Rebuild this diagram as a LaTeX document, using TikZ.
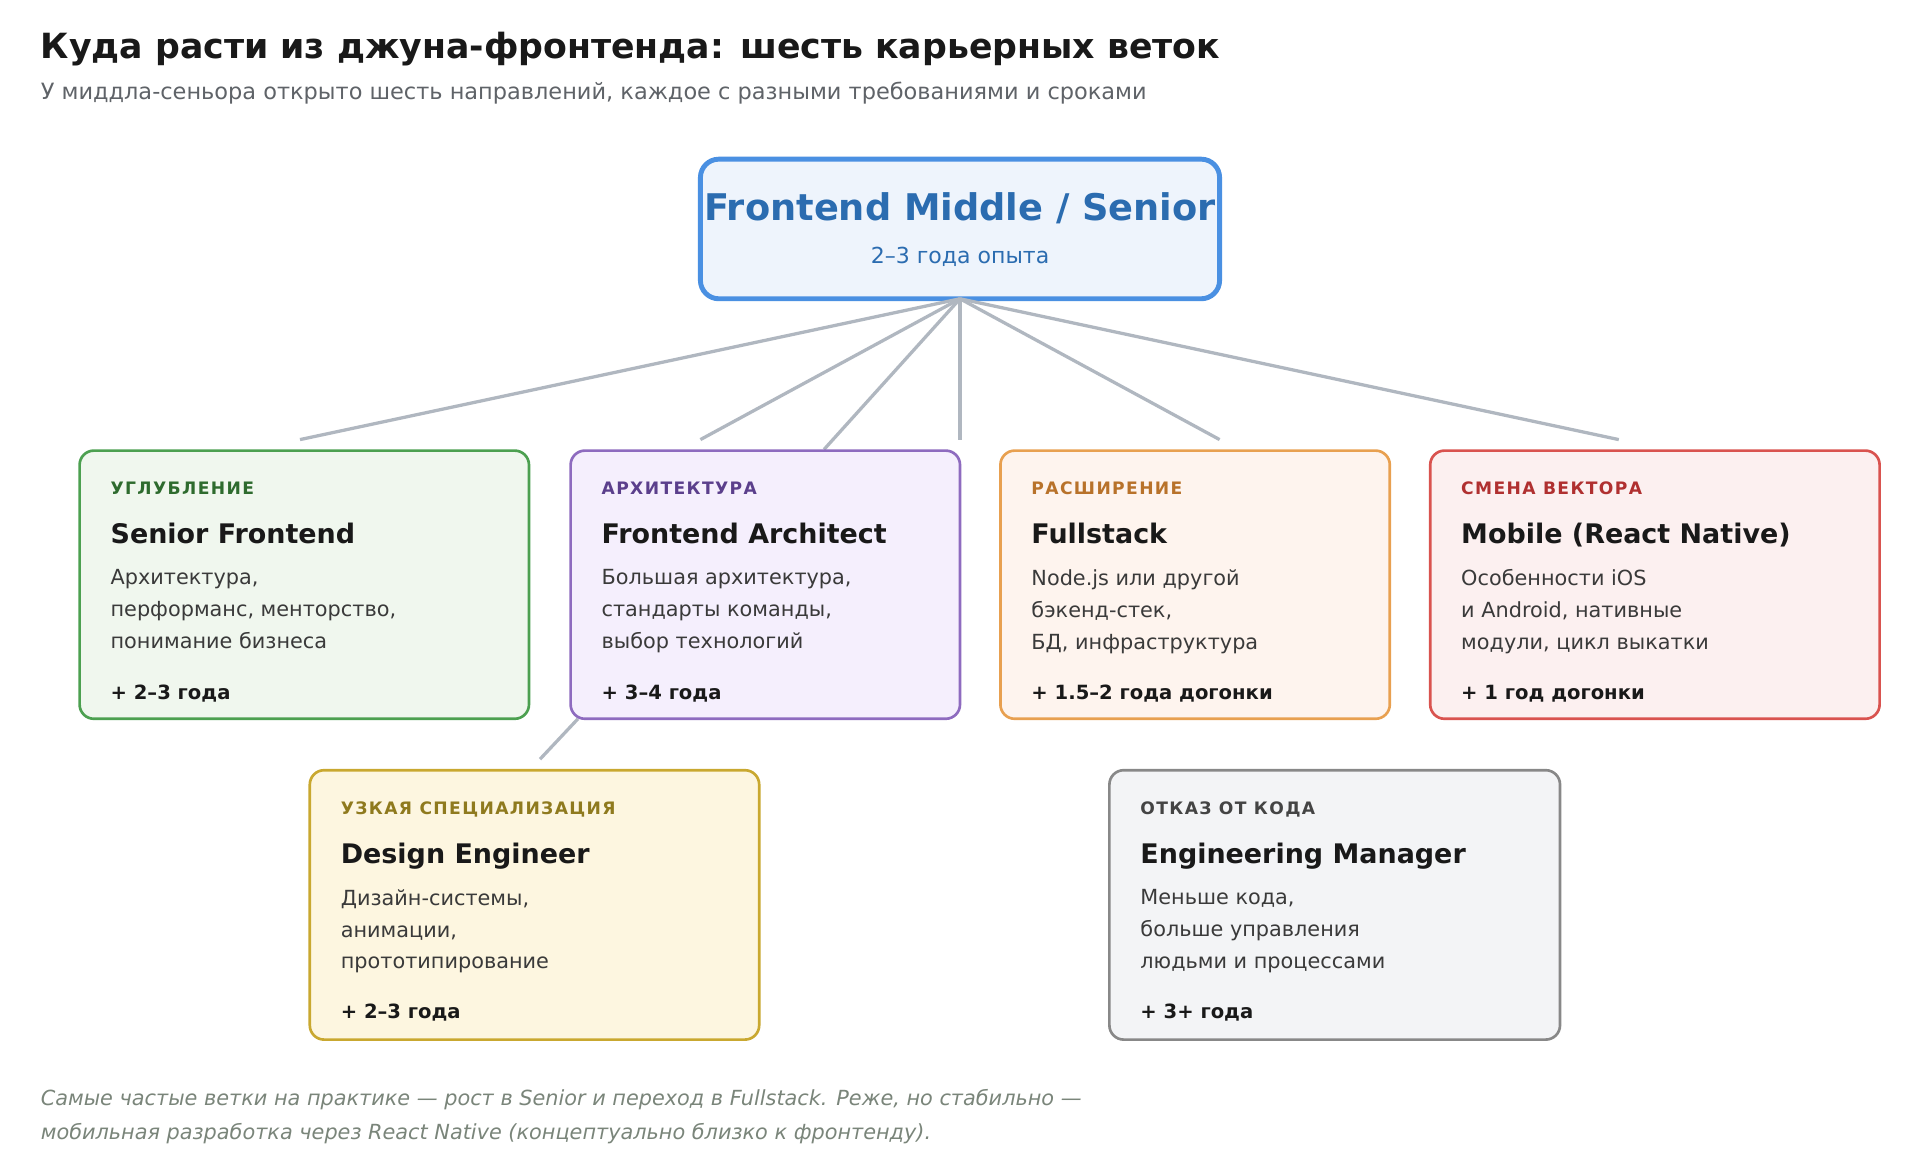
\documentclass[tikz,border=0pt]{standalone}
\usepackage{fontspec}
\setmainfont{DejaVu Sans}
\newfontfamily\spaced[LetterSpace=8]{DejaVu Sans}
\definecolor{gB}{HTML}{4CA050}\definecolor{gF}{HTML}{F0F7EE}\definecolor{gL}{HTML}{2E6B2E}
\definecolor{pB}{HTML}{8E6BBF}\definecolor{pF}{HTML}{F5EFFD}\definecolor{pL}{HTML}{5B3F8C}
\definecolor{oB}{HTML}{E8A050}\definecolor{oF}{HTML}{FEF4EE}\definecolor{oL}{HTML}{B8722A}
\definecolor{rB}{HTML}{D9534F}\definecolor{rF}{HTML}{FCF0F0}\definecolor{rL}{HTML}{B03030}
\definecolor{yB}{HTML}{C9A830}\definecolor{yF}{HTML}{FDF6E0}\definecolor{yL}{HTML}{8F7A1E}
\definecolor{aB}{HTML}{888888}\definecolor{aF}{HTML}{F3F4F6}\definecolor{aL}{HTML}{444444}
\definecolor{rootB}{HTML}{4A90E2}\definecolor{rootF}{HTML}{EEF4FC}\definecolor{rootT}{HTML}{2B6CB0}
\definecolor{edge}{HTML}{B0B7C0}\definecolor{sub}{HTML}{5F6368}\definecolor{desc}{HTML}{3A3A3A}
\definecolor{foot}{HTML}{7A857A}
\tikzset{
 txt/.style={anchor=base west,inner sep=0pt},
 cat/.style={txt,font=\spaced\bfseries\fontsize{8.4}{10}\selectfont},
 ttl/.style={txt,font=\bfseries\fontsize{13.2}{15}\selectfont,text=black!90},
 dsc/.style={txt,font=\fontsize{10.2}{15.6}\selectfont,text=desc,align=left},
 btm/.style={txt,font=\bfseries\fontsize{9.6}{11}\selectfont,text=black!90},
 link/.style={draw=edge,line width=1.6pt}
}
% #1 name, #2 x0, #3 y0, #4 x1, #5 y1, #6 prefix, #7 cat, #8 title, #9 desc
\newcommand\mycard[9]{%
 \draw[draw=#6B,fill=#6F,line width=1.3pt,rounded corners=7] (#2,#3) rectangle (#4,#5);
 \node[cat,text=#6L] (#1c) at (#2+25,#3+36) {#7};
 \node[ttl] (#1t) at (#2+25,#3+76) {#8};
 \node[dsc,anchor=north west] (#1d) at (#2+25,#3+97) {#9};
}
\begin{document}
\begin{tikzpicture}[x=0.6pt,y=-0.6pt]
\useasboundingbox[fill=white] (0,0) rectangle (1568,947);
\node[txt,font=\bfseries\fontsize{17}{20}\selectfont,text=black!90] (title) at (33,48) {Куда расти из джуна-фронтенда: шесть карьерных веток};
\node[txt,font=\fontsize{11}{13}\selectfont,text=sub] (subtitle) at (33,81) {У миддла-сеньора открыто шесть направлений, каждое с разными требованиями и сроками};
% root
\draw[draw=rootB,fill=rootF,line width=2.4pt,rounded corners=9] (572,130) rectangle (996,244);
\node[inner sep=0,anchor=base,font=\bfseries\fontsize{18}{20}\selectfont,text=rootT] (rt) at (784,180) {Frontend Middle / Senior};
\node[inner sep=0,anchor=base,font=\fontsize{10.8}{12}\selectfont,text=rootT] (rs) at (784,215) {2–3 года опыта};
\coordinate (root) at (784,244);
\coordinate (e1) at (245,359);\coordinate (e2) at (572,359);\coordinate (e3) at (673,367);
\coordinate (e4) at (784,359);\coordinate (e5) at (996,359);\coordinate (e6) at (1322,359);
\coordinate (f1) at (472,587);\coordinate (f2) at (441,620);
\foreach \e in {e1,e2,e3,e4,e5,e6} \draw[link] (root) -- (\e);
\draw[link] (f1) -- (f2);
\mycard{a}{65}{368}{432}{587}{g}{УГЛУБЛЕНИЕ}{Senior Frontend}{Архитектура,\\перформанс, менторство,\\понимание бизнеса}
\node[btm] (ab) at (90,571) {+ 2–3 года};
\mycard{b}{466}{368}{784}{587}{p}{АРХИТЕКТУРА}{Frontend Architect}{Большая архитектура,\\стандарты команды,\\выбор технологий}
\node[btm] (bb) at (491,571) {+ 3–4 года};
\mycard{c}{817}{368}{1135}{587}{o}{РАСШИРЕНИЕ}{Fullstack}{Node.js или другой\\бэкенд-стек,\\БД, инфраструктура}
\node[btm] (cb) at (842,571) {+ 1.5–2 года догонки};
\mycard{d}{1168}{368}{1535}{587}{r}{СМЕНА ВЕКТОРА}{Mobile (React Native)}{Особенности iOS\\и Android, нативные\\модули, цикл выкатки}
\node[btm] (db) at (1193,571) {+ 1 год догонки};
\mycard{e}{253}{629}{620}{849}{y}{УЗКАЯ СПЕЦИАЛИЗАЦИЯ}{Design Engineer}{Дизайн-системы,\\анимации,\\прототипирование}
\node[btm] (eb) at (278,832) {+ 2–3 года};
\mycard{f}{906}{629}{1274}{849}{a}{ОТКАЗ ОТ КОДА}{Engineering Manager}{Меньше кода,\\больше управления\\людьми и процессами}
\node[btm] (fb) at (931,832) {+ 3+ года};
\node[txt,font=\itshape\fontsize{10.2}{16.8}\selectfont,text=foot,align=left,anchor=north west] (foot) at (33,889) {Самые частые ветки на практике — рост в Senior и переход в Fullstack. Реже, но стабильно —\\мобильная разработка через React Native (концептуально близко к фронтенду).};
\end{tikzpicture}
\end{document}
